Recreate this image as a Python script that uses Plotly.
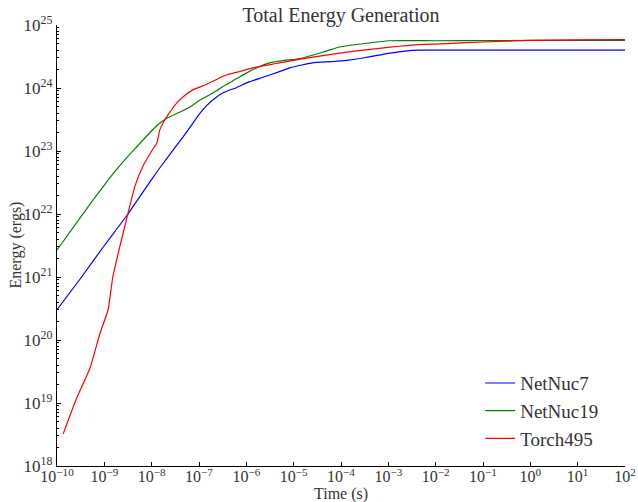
import plotly.graph_objects as go

# ---- data (time in s, energy in ergs) ----
t_netnuc7 = [1.0e-10, 3.16e-10, 1.0e-9, 3.02e-9, 1.0e-8, 1.48e-8, 3.16e-8, 4.57e-8,
             7.08e-8, 1.05e-7, 1.45e-7, 1.95e-7, 3.16e-7, 6.31e-7, 1.17e-6, 2.24e-6,
             5.01e-6, 8.32e-6, 1.58e-5, 2.51e-5, 6.31e-5, 1.32e-4, 3.16e-4, 1.0e-3,
             2.51e-3, 4.57e-3, 1.0e-2, 1.0e-1, 1.0e0, 1.0e1, 1.0e2]
e_netnuc7 = [3.02e20, 9.55e20, 3.16e21, 9.55e21, 3.55e22, 5.37e22, 1.15e23, 1.66e23,
             2.63e23, 3.98e23, 5.25e23, 6.46e23, 8.32e23, 1.02e24, 1.26e24, 1.48e24,
             1.82e24, 2.09e24, 2.34e24, 2.51e24, 2.63e24, 2.75e24, 3.02e24, 3.55e24,
             3.89e24, 3.98e24, 3.98e24, 3.98e24, 3.98e24, 3.98e24, 3.98e24]

t_netnuc19 = [1.0e-10, 3.16e-10, 5.75e-10, 1.0e-9, 1.78e-9, 3.02e-9, 5.01e-9, 9.12e-9,
              1.41e-8, 2.09e-8, 3.98e-8, 6.46e-8, 1.05e-7, 1.58e-7, 2.40e-7, 3.16e-7,
              6.31e-7, 1.02e-6, 1.78e-6, 3.09e-6, 6.31e-6, 1.15e-5, 2.51e-5, 5.01e-5,
              9.33e-5, 3.47e-4, 1.07e-3, 1.0e-2, 1.0e-1, 1.0e0, 1.0e1, 1.0e2]
e_netnuc19 = [2.69e21, 8.91e21, 1.66e22, 2.88e22, 5.01e22, 7.94e22, 1.20e23, 1.95e23,
              2.69e23, 3.31e23, 4.17e23, 5.01e23, 6.46e23, 7.59e23, 9.12e23, 1.05e24,
              1.41e24, 1.74e24, 2.14e24, 2.51e24, 2.75e24, 2.88e24, 3.31e24, 3.89e24,
              4.47e24, 5.13e24, 5.62e24, 5.62e24, 5.65e24, 5.69e24, 5.69e24, 5.69e24]

t_torch495 = [1.35e-10, 2.51e-10, 5.01e-10, 8.13e-10, 1.20e-9, 1.51e-9, 2.04e-9, 3.02e-9,
              4.47e-9, 6.76e-9, 1.0e-8, 1.29e-8, 1.48e-8, 1.78e-8, 2.19e-8, 3.55e-8,
              5.01e-8, 7.41e-8, 1.45e-7, 2.40e-7, 3.89e-7, 7.94e-7, 1.38e-6, 5.01e-6,
              2.51e-5, 1.32e-4, 6.46e-4, 3.16e-3, 1.20e-2, 1.0e-1, 1.0e0, 1.0e1, 1.0e2]
e_torch495 = [3.24e18, 1.12e19, 3.63e19, 1.29e20, 3.02e20, 1.0e21, 2.69e21, 8.91e21,
              2.82e22, 6.03e22, 1.0e23, 1.35e23, 2.14e23, 2.88e23, 3.72e23, 6.03e23,
              7.59e23, 9.33e23, 1.15e24, 1.38e24, 1.62e24, 1.86e24, 2.09e24, 2.51e24,
              3.09e24, 3.72e24, 4.27e24, 4.79e24, 5.01e24, 5.37e24, 5.69e24, 5.82e24, 5.89e24]

series_names = ["NetNuc7", "NetNuc19", "Torch495"]
series_colors = ["#0000ff", "#008000", "#ff0000"]

x_tick_vals = [1e-10, 1e-9, 1e-8, 1e-7, 1e-6, 1e-5, 1e-4, 1e-3, 1e-2, 1e-1, 1e0, 1e1, 1e2]
x_tick_text = ["10<sup>−10</sup>", "10<sup>−9</sup>", "10<sup>−8</sup>", "10<sup>−7</sup>",
               "10<sup>−6</sup>", "10<sup>−5</sup>", "10<sup>−4</sup>", "10<sup>−3</sup>",
               "10<sup>−2</sup>", "10<sup>−1</sup>", "10<sup>0</sup>", "10<sup>1</sup>",
               "10<sup>2</sup>"]
y_tick_vals = [1e18, 1e19, 1e20, 1e21, 1e22, 1e23, 1e24, 1e25]
y_tick_text = ["10<sup>18</sup>", "10<sup>19</sup>", "10<sup>20</sup>", "10<sup>21</sup>",
               "10<sup>22</sup>", "10<sup>23</sup>", "10<sup>24</sup>", "10<sup>25</sup>"]

x_title = "Time (s)"
y_title = "Energy (ergs)"
chart_title = "Total Energy Generation"

x_range_log = [-10, 2]
y_range_log = [18, 25]

FONT = "Liberation Serif"
TXT = "#333333"

fig = go.Figure()
for i, (name, color, t, e) in enumerate(zip(series_names, series_colors,
                                            [t_netnuc7, t_netnuc19, t_torch495],
                                            [e_netnuc7, e_netnuc19, e_torch495])):
    fig.add_trace(go.Scatter(x=t, y=e, mode="lines", name=name,
                             line=dict(color=color, width=1.2, shape="spline", smoothing=0.5),
                             legendgroup=f"g{i}"))

axis_common = dict(
    type="log", showgrid=False, zeroline=False, showline=True,
    linecolor="#000000", linewidth=1.2, ticks="inside", ticklen=4,
    tickcolor="#000000", tickwidth=1, mirror=False,
)

fig.update_layout(
    width=638, height=502,
    margin=dict(l=57, r=13, t=25, b=36, autoexpand=False),
    paper_bgcolor="white", plot_bgcolor="white",
    font=dict(family=FONT, color=TXT),
    title=dict(text=chart_title, x=0.5, xref="paper",
               y=1 - 15 / 502, yref="container", yanchor="middle",
               font=dict(family=FONT, size=20, color=TXT)),
    xaxis=dict(axis_common, range=x_range_log, tickvals=x_tick_vals, ticktext=x_tick_text,
               tickfont=dict(family=FONT, size=16, color=TXT), ticklabelstandoff=-4),
    yaxis=dict(axis_common, range=y_range_log, tickvals=y_tick_vals, ticktext=y_tick_text,
               tickfont=dict(family=FONT, size=17, color=TXT),
               minor=dict(ticks="inside", ticklen=2, tickcolor="#000000", dtick="D1", showgrid=False)),
    legend=dict(x=0.745, xanchor="left", y=0.231, yanchor="top",
                font=dict(family=FONT, size=19, color=TXT),
                bgcolor="rgba(0,0,0,0)", tracegroupgap=0),
    showlegend=True,
    annotations=[
        dict(text=x_title, xref="paper", yref="paper", x=0.5, y=-(494 - 466) / 441,
             xanchor="center", yanchor="middle", showarrow=False,
             font=dict(family=FONT, size=16, color=TXT)),
        dict(text=y_title, xref="paper", yref="paper", x=-(57 - 15) / 568, y=0.5,
             xanchor="center", yanchor="middle", showarrow=False, textangle=-90,
             font=dict(family=FONT, size=16, color=TXT)),
    ],
)

fig.write_html("out.html", config={"displayModeBar": False},
               post_script="document.body.style.margin='0';document.body.style.padding='0';")
